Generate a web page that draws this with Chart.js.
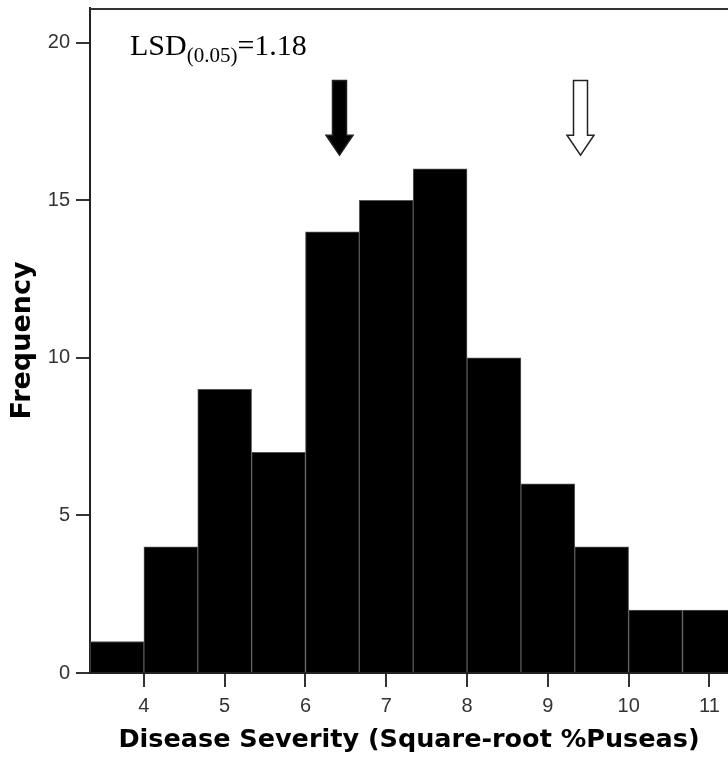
<!DOCTYPE html>
<html>
<head>
<meta charset="utf-8">
<script src="https://cdn.jsdelivr.net/npm/chart.js@4"></script>
<style>
  html, body { margin: 0; padding: 0; background: #fff; overflow: hidden; }
  #histChart { display: block; }
</style>
</head>
<body>
<canvas id="histChart" width="728" height="764"></canvas>
<script>
// histogram bins (square-root % pustules) and counts
const binLower = [3.333, 4.0, 4.667, 5.333, 6.0, 6.667, 7.333, 8.0, 8.667, 9.333, 10.0, 10.667];
const binUpper = [4.0, 4.667, 5.333, 6.0, 6.667, 7.333, 8.0, 8.667, 9.333, 10.0, 10.667, 11.333];
const frequency = [1, 4, 9, 7, 14, 15, 16, 10, 6, 4, 2, 2];

const xTicks = [4, 5, 6, 7, 8, 9, 10, 11];
const yTicks = [0, 5, 10, 15, 20];

// parent means marked with arrows (filled / open)
const arrowX = [6.42, 9.40];
const arrowFill = ['#000', '#fff'];

const sansFont = "'DejaVu Sans', Verdana, sans-serif";
const tickFont = "'Liberation Sans', Arial, sans-serif";

const extras = {
    id: 'extras',
    afterDatasetsDraw(chart) {
        const { ctx, chartArea } = chart;
        const xs = chart.scales.x, ys = chart.scales.y;
        ctx.save();

        // top frame line
        ctx.strokeStyle = '#333';
        ctx.lineWidth = 2;
        ctx.beginPath();
        ctx.moveTo(chartArea.left, chartArea.top + 1);
        ctx.lineTo(chartArea.right, chartArea.top + 1);
        ctx.stroke();

        // arrows
        arrowX.forEach(function (v, i) {
            const cx = Math.round(xs.getPixelForValue(v)) + 0.5;
            const tip = ys.getPixelForValue(16.43);
            const top = ys.getPixelForValue(18.8);
            const shaft = 7, head = 13.5, headLen = 20;
            ctx.beginPath();
            ctx.moveTo(cx - shaft, top);
            ctx.lineTo(cx + shaft, top);
            ctx.lineTo(cx + shaft, tip - headLen);
            ctx.lineTo(cx + head, tip - headLen);
            ctx.lineTo(cx, tip);
            ctx.lineTo(cx - head, tip - headLen);
            ctx.lineTo(cx - shaft, tip - headLen);
            ctx.closePath();
            ctx.fillStyle = arrowFill[i];
            ctx.fill();
            ctx.lineWidth = 1.5;
            ctx.strokeStyle = '#222';
            ctx.stroke();
        });

        // LSD note
        ctx.fillStyle = '#000';
        ctx.textBaseline = 'alphabetic';
        ctx.textAlign = 'left';
        let x = chartArea.left + 40;
        const base = chartArea.top + 47;
        ctx.font = "30px 'Liberation Serif', 'Times New Roman', serif";
        ctx.fillText('LSD', x, base);
        x += ctx.measureText('LSD').width;
        ctx.font = "21px 'Liberation Serif', 'Times New Roman', serif";
        ctx.fillText('(0.05)', x, base + 7);
        x += ctx.measureText('(0.05)').width;
        ctx.font = "30px 'Liberation Serif', 'Times New Roman', serif";
        ctx.fillText('=1.18', x, base);
        ctx.restore();
    }
};

const ctx = document.getElementById('histChart').getContext('2d');

new Chart(ctx, {
    type: 'bar',
    data: {
        datasets: [{
            label: 'Frequency',
            data: frequency.map(function (f, i) {
                return { x: (binLower[i] + binUpper[i]) / 2, y: f };
            }),
            backgroundColor: '#000',
            borderColor: '#555',
            borderWidth: 1,
            barPercentage: 1,
            categoryPercentage: 1
        }]
    },
    options: {
        responsive: false,
        animation: false,
        devicePixelRatio: 1,
        layout: { padding: { top: 8, right: 0, bottom: 0, left: 0 } },
        plugins: {
            legend: { display: false },
            tooltip: { enabled: false }
        },
        scales: {
            x: {
                type: 'linear',
                offset: false,
                min: binLower[0],
                max: 11.23,
                afterBuildTicks: function (scale) {
                    scale.ticks = xTicks.map(function (v) { return { value: v }; });
                },
                afterFit: function (scale) {
                    scale.height = 91;
                    scale.paddingLeft = 0;
                    scale.paddingRight = 0;
                },
                grid: {
                    offset: false,
                    drawOnChartArea: false,
                    drawTicks: true,
                    tickLength: 14,
                    color: '#333',
                    lineWidth: 2
                },
                border: { display: true, color: '#222', width: 2 },
                ticks: {
                    color: '#333',
                    padding: 7,
                    maxRotation: 0,
                    font: { family: tickFont, size: 20 },
                    callback: function (v) { return v; }
                },
                title: {
                    display: true,
                    text: 'Disease Severity (Square-root %Puseas)',
                    color: '#000',
                    font: { family: sansFont, size: 25.5, weight: 'bold' },
                    padding: { top: 0, bottom: 8 }
                }
            },
            y: {
                min: 0,
                max: 21.1,
                afterBuildTicks: function (scale) {
                    scale.ticks = yTicks.map(function (v) { return { value: v }; });
                },
                afterFit: function (scale) {
                    scale.width = 90;
                    scale.paddingTop = 0;
                    scale.paddingBottom = 0;
                },
                grid: {
                    drawOnChartArea: false,
                    drawTicks: true,
                    tickLength: 14,
                    color: '#333',
                    lineWidth: 2
                },
                border: { display: true, color: '#222', width: 2 },
                ticks: {
                    color: '#333',
                    padding: 6,
                    font: { family: tickFont, size: 20 }
                },
                title: {
                    display: true,
                    text: 'Frequency',
                    color: '#000',
                    font: { family: sansFont, size: 27, weight: 'bold' },
                    padding: { top: 7, bottom: 0 }
                }
            }
        }
    },
    plugins: [extras]
});
</script>
</body>
</html>
